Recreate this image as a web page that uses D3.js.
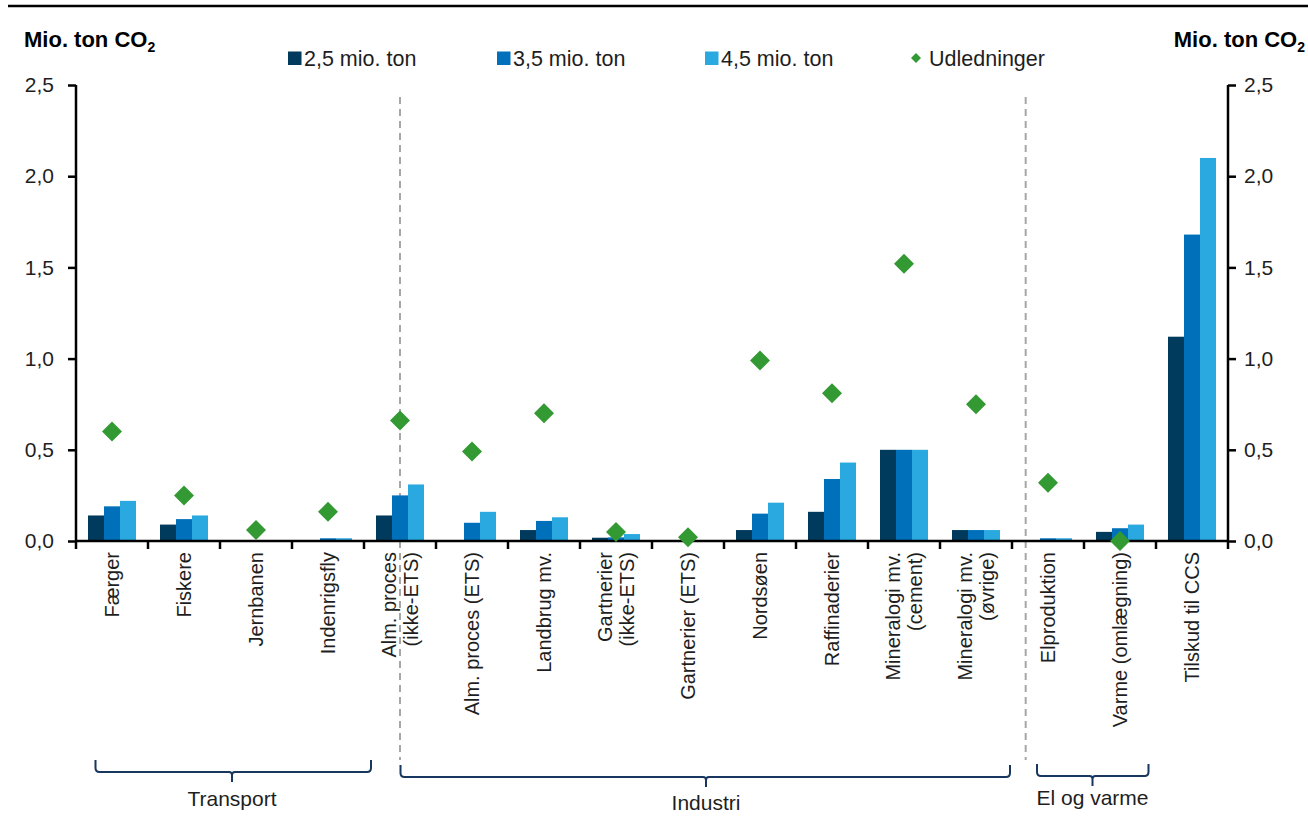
<!DOCTYPE html>
<html>
<head>
<meta charset="utf-8">
<script src="https://cdn.jsdelivr.net/npm/d3@7"></script>
<style>
  body { margin: 0; background: #fff; }
  svg { font-family: "Liberation Sans", Arial, sans-serif; }
</style>
</head>
<body>
<svg id="chart" width="1308" height="822"></svg>
<script>
// kategorier (linjer adskilt med |)
const categories = ["Færger", "Fiskere", "Jernbanen", "Indenrigsfly", "Alm. proces|(ikke-ETS)",
  "Alm. proces (ETS)", "Landbrug mv.", "Gartnerier|(ikke-ETS)", "Gartnerier (ETS)", "Nordsøen",
  "Raffinaderier", "Mineralogi mv.|(cement)", "Mineralogi mv.|(øvrige)", "Elproduktion",
  "Varme (omlægning)", "Tilskud til CCS"];

const series = ["2,5 mio. ton", "3,5 mio. ton", "4,5 mio. ton"];
const s25 = [0.14, 0.09, 0.002, 0.005, 0.14, 0.0, 0.06, 0.018, 0.0, 0.06, 0.16, 0.50, 0.06, 0.003, 0.05, 1.12];
const s35 = [0.19, 0.12, 0.005, 0.015, 0.25, 0.10, 0.11, 0.02, 0.002, 0.15, 0.34, 0.50, 0.06, 0.015, 0.07, 1.68];
const s45 = [0.22, 0.14, 0.005, 0.015, 0.31, 0.16, 0.13, 0.038, 0.005, 0.21, 0.43, 0.50, 0.06, 0.015, 0.09, 2.10];
const udledninger = [0.60, 0.25, 0.06, 0.16, 0.66, 0.49, 0.70, 0.05, 0.02, 0.99, 0.81, 1.52, 0.75, 0.32, 0.0, null];

const yTicks = [0, 0.5, 1.0, 1.5, 2.0, 2.5];

// grupper: [første, sidste kategori, navn]
const groups = [
  {name: "Transport", from: 0, to: 3},
  {name: "Industri", from: 4, to: 12},
  {name: "El og varme", from: 13, to: 14}
];

const colors = ["#003a5d", "#0070ba", "#29a9e0"];
const green = "#339933";
const textCol = "#1e1e1e";

const margin = {top: 85, right: 80, bottom: 281, left: 76};
const width = 1308, height = 822;
const svg = d3.select("#chart");

const x = d3.scaleBand().domain(d3.range(categories.length))
  .range([margin.left, width - margin.right]).padding(0);
const xs = d3.scaleBand().domain(d3.range(3)).range([x.bandwidth() / 6, x.bandwidth() * 5 / 6]);
const y = d3.scaleLinear().domain([0, 2.5]).range([height - margin.bottom, margin.top]);
const fmt = d => d3.format(".1f")(d).replace(".", ",");

// øverste streg
svg.append("line").attr("x1", 8).attr("x2", 1308).attr("y1", 6).attr("y2", 6)
  .attr("stroke", "#000").attr("stroke-width", 2.5);

// skillelinjer
[[4, 0.5], [13, 0.19]].forEach(([i, f]) => {
  const xx = x(i) + x.bandwidth() * f;
  svg.append("line").attr("x1", xx).attr("x2", xx).attr("y1", 97).attr("y2", 760)
    .attr("stroke", "#a6a6a6").attr("stroke-width", 2).attr("stroke-dasharray", "7,5");
});

// søjler
const allSeries = [s25, s35, s45];
allSeries.forEach((vals, si) => {
  svg.append("g").selectAll("rect").data(vals).join("rect")
    .attr("x", (d, i) => x(i) + xs(si))
    .attr("width", xs.bandwidth())
    .attr("y", d => y(d))
    .attr("height", d => y(0) - y(d))
    .attr("fill", colors[si]);
});

// akser
const axisL = d3.axisLeft(y).tickValues(yTicks).tickFormat(fmt).tickSize(8).tickPadding(14);
const axisR = d3.axisRight(y).tickValues(yTicks).tickFormat(fmt).tickSize(8).tickPadding(8);
[[axisL, margin.left], [axisR, width - margin.right]].forEach(([ax, tx]) => {
  const g = svg.append("g").attr("transform", `translate(${tx},0)`).call(ax);
  g.select(".domain").attr("stroke-width", 2.5).attr("d", `M0,${y(2.5)}V${y(0)}`);
  g.selectAll(".tick line").attr("stroke-width", 2.5);
  g.selectAll(".tick text").attr("font-size", 21).attr("fill", textCol)
    .attr("font-family", "Liberation Sans, Arial");
});

// x-akse med skillestreger
const xAxis = svg.append("g");
xAxis.append("line").attr("x1", margin.left).attr("x2", width - margin.right)
  .attr("y1", y(0)).attr("y2", y(0)).attr("stroke", "#000").attr("stroke-width", 2.5);
xAxis.selectAll("line.tk").data(d3.range(categories.length + 1)).join("line")
  .attr("class", "tk")
  .attr("x1", i => margin.left + i * x.bandwidth()).attr("x2", i => margin.left + i * x.bandwidth())
  .attr("y1", y(0)).attr("y2", y(0) + 8).attr("stroke", "#000").attr("stroke-width", 2.5);

// kategori-etiketter
categories.forEach((c, i) => {
  const lines = c.split("|");
  const cx = x(i) + x.bandwidth() / 2;
  const t = svg.append("text")
    .attr("transform", `translate(${cx},552) rotate(-90)`)
    .attr("text-anchor", "end").attr("font-size", 20).attr("fill", textCol);
  lines.forEach((l, li) => {
    t.append("tspan").attr("x", 0)
      .attr("y", (li - (lines.length - 1) / 2) * 22 + 7)
      .text(l);
  });
});

// udledninger (ruder)
svg.append("g").selectAll("path").data(udledninger.map((v, i) => [v, i]).filter(d => d[0] !== null))
  .join("path")
  .attr("d", d3.symbol(d3.symbolSquare, 200))
  .attr("transform", d => `translate(${x(d[1]) + x.bandwidth() / 2},${y(d[0])}) rotate(45)`)
  .attr("fill", green);

// aksetitler
[[24, "start"], [1305, "end"]].forEach(([tx, anchor]) => {
  const t = svg.append("text").attr("x", tx).attr("y", 47).attr("text-anchor", anchor)
    .attr("font-size", 22).attr("font-weight", "bold").attr("fill", "#000");
  t.append("tspan").text("Mio. ton CO");
  t.append("tspan").attr("font-size", 14).attr("dy", 5).text("2");
});

// legende
const legendX = [288, 497, 705];
series.forEach((s, i) => {
  svg.append("rect").attr("x", legendX[i]).attr("y", 51.5).attr("width", 13.5).attr("height", 13.5).attr("fill", colors[i]);
  svg.append("text").attr("x", legendX[i] + 16).attr("y", 66).attr("font-size", 21.5).attr("fill", textCol).text(s);
});
svg.append("path").attr("d", d3.symbol(d3.symbolSquare, 50))
  .attr("transform", "translate(916,58) rotate(45)").attr("fill", green);
svg.append("text").attr("x", 929).attr("y", 66).attr("font-size", 21.5).attr("fill", textCol).text("Udledninger");

// gruppeklammer
const bracketPos = [
  {x0: 95.5, x1: 371, mid: 232, yb: 772, label: 806},
  {x0: 400.5, x1: 1010, mid: 706, yb: 777, label: 810},
  {x0: 1037, x1: 1148.5, mid: 1092.5, yb: 776, label: 805}
];
groups.forEach((g, gi) => {
  const b = bracketPos[gi];
  const r = 4;
  svg.append("path")
    .attr("d", `M${b.x0},${b.yb - 12}V${b.yb - r}Q${b.x0},${b.yb} ${b.x0 + r},${b.yb}H${b.mid - 3}Q${b.mid},${b.yb} ${b.mid},${b.yb + 3}V${b.yb + 10}M${b.mid},${b.yb + 3}Q${b.mid},${b.yb} ${b.mid + 3},${b.yb}H${b.x1 - r}Q${b.x1},${b.yb} ${b.x1},${b.yb - r}V${b.yb - 12}`)
    .attr("fill", "none").attr("stroke", "#17375e").attr("stroke-width", 2);
  svg.append("text").attr("x", b.mid).attr("y", b.label).attr("text-anchor", "middle")
    .attr("font-size", 21).attr("fill", textCol).text(g.name);
});
</script>
</body>
</html>
